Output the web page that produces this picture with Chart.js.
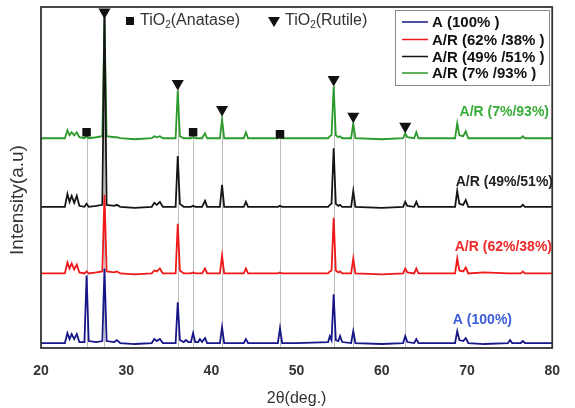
<!DOCTYPE html>
<html>
<head>
<meta charset="utf-8">
<script src="https://cdn.jsdelivr.net/npm/chart.js@4.4.0/dist/chart.umd.min.js"></script>
<style>
  html, body { margin: 0; padding: 0; background: #fff; }
  canvas { display: block; }
</style>
</head>
<body>
<canvas id="xrdChart" width="575" height="408"></canvas>
<script>
// --- DATA ---
const twoTheta = [
  20, 21.5, 22.8, 23.1, 23.35, 23.6, 23.9, 24.2, 24.5, 25.1,
  25.35, 25.6, 26.5, 27.2, 27.45, 27.7, 28.6, 28.9, 29.3, 31.0,
  33.0, 33.3, 33.6, 33.95, 34.3, 35.8, 36.05, 36.3, 36.75, 37.0,
  37.3, 37.6, 37.85, 38.1, 38.45, 38.65, 38.9, 39.25, 39.5, 41.0,
  41.25, 41.5, 43.8, 44.05, 44.3, 47.8, 48.05, 48.3, 50.0, 53.7,
  53.9, 54.1, 54.35, 54.6, 54.9, 55.1, 55.35, 56.4, 56.65, 56.9,
  60.0, 62.5, 62.75, 63.0, 63.8, 64.05, 64.3, 68.6, 68.85, 69.1,
  69.55, 69.85, 70.15, 72.0, 74.8, 75.05, 75.3, 76.3, 76.55, 76.8,
  80
];

// intensities above each pattern's own baseline (a.u.)
const anatase100 = [
  1, 1, 1, 11, 5, 10, 5, 10, 2, 2,
  69, 3, 2, 3, 76, 3, 2, 4, 1, 0,
  1, 5, 3, 5, 1, 1, 42, 4, 2, 4,
  2, 2, 11, 2, 2, 5, 2, 6, 1, 1,
  17, 1, 1, 5, 1, 1, 16, 1, 1, 2,
  8, 4, 50, 4, 3, 8, 2, 1, 13, 1,
  0, 1, 8, 2, 1, 5, 1, 1, 13, 4,
  3, 6, 1, 0, 1, 4, 1, 1, 3, 1,
  1
];
const ar62_38 = [
  1, 1, 1, 12, 6, 11, 5, 10, 2, 1,
  3, 1, 2, 3, 80, 3, 2, 3, 1, 0,
  1, 4, 3, 6, 1, 1, 51, 4, 1, 1,
  1, 1, 2, 1, 1, 1, 1, 6, 1, 1,
  19, 1, 1, 6, 1, 1, 2, 1, 1, 1,
  3, 4, 57, 4, 2, 3, 1, 1, 16, 1,
  0, 1, 6, 2, 1, 6, 1, 1, 16, 4,
  3, 7, 1, 2, 1, 1, 1, 1, 3, 1,
  1
];
const ar49_51 = [
  1, 1, 1, 14, 6, 12, 5, 12, 2, 1,
  4, 1, 2, 3, 200, 3, 2, 3, 1, 0,
  1, 5, 3, 6, 1, 1, 52, 4, 1, 1,
  1, 1, 2, 1, 1, 1, 1, 7, 1, 1,
  23, 1, 1, 6, 1, 1, 2, 1, 1, 1,
  3, 4, 60, 4, 2, 3, 1, 1, 17, 1,
  0, 1, 6, 2, 1, 6, 1, 1, 17, 4,
  3, 8, 1, 1, 1, 1, 1, 1, 3, 1,
  1
];
const ar7_93 = [
  1, 1, 1, 9, 4, 7, 4, 7, 2, 1,
  3, 1, 2, 3, 122, 3, 2, 2, 1, 0,
  1, 3, 2, 3, 1, 1, 49, 3, 1, 1,
  1, 1, 2, 1, 1, 1, 1, 6, 1, 1,
  20, 1, 1, 7, 1, 1, 2, 1, 1, 1,
  3, 4, 53, 4, 2, 3, 1, 1, 16, 1,
  0, 1, 6, 2, 1, 7, 1, 1, 16, 4,
  3, 8, 1, 1, 1, 1, 1, 1, 3, 1,
  1
];

const seriesNames = ['A (100%)', 'A/R (62%/38%)', 'A/R (49%/51%)', 'A/R (7%/93%)'];
const legendNames = ['A (100% )', 'A/R (62% /38% )', 'A/R (49% /51% )', 'A/R (7% /93% )'];
const seriesOffsets = [4, 74, 141, 210];
const seriesColors = ['#16168a', '#f01818', '#151515', '#2a9a2a'];
const labelColors = ['#3a5cd6', '#f02a2a', '#222222', '#38ad38'];

// phase markers
const anataseX = [25.35, 37.85, 48.05];
const anataseY = [217, 217, 215];
const rutileX = [27.45, 36.05, 41.25, 54.35, 56.65, 62.75];
const rutileY = [338, 266, 240, 270, 233, 223];

const xTicks = [20, 30, 40, 50, 60, 70, 80];

// --- DATASETS ---
const seriesValues = [anatase100, ar62_38, ar49_51, ar7_93];
const lineSets = seriesValues.map((vals, i) => ({
    label: seriesNames[i],
    data: twoTheta.map((t, k) => ({ x: t, y: vals[k] + seriesOffsets[i] })),
    borderColor: seriesColors[i],
    borderWidth: 1.8,
    pointRadius: 0,
    tension: 0,
    fill: false
}));

const markerSets = [
    {
        label: 'anatase',
        type: 'scatter',
        data: anataseX.map((t, k) => ({ x: t, y: anataseY[k] })),
        pointStyle: 'rect',
        pointRadius: 6,
        backgroundColor: '#111',
        borderColor: '#111',
        borderWidth: 0,
        order: -1
    },
    {
        label: 'rutile',
        type: 'scatter',
        data: rutileX.map((t, k) => ({ x: t, y: rutileY[k] })),
        pointStyle: 'triangle',
        rotation: 180,
        pointRadius: 7,
        backgroundColor: '#111',
        borderColor: '#111',
        borderWidth: 0,
        order: -1
    }
];

// small helper: text like TiO2(...) with subscript
function drawChem(ctx, x, y, head, sub, tail, size) {
    ctx.font = size + 'px Arial, "Liberation Sans", sans-serif';
    ctx.fillText(head, x, y);
    x += ctx.measureText(head).width;
    ctx.font = Math.round(size * 0.6) + 'px Arial, "Liberation Sans", sans-serif';
    ctx.fillText(sub, x, y + size * 0.28);
    x += ctx.measureText(sub).width;
    ctx.font = size + 'px Arial, "Liberation Sans", sans-serif';
    ctx.fillText(tail, x, y);
}

const overlayPlugin = {
    id: 'overlay',
    beforeDatasetsDraw(chart) {
        const { ctx, chartArea, scales: { x, y } } = chart;
        ctx.save();
        ctx.strokeStyle = '#bdbdbd';
        ctx.lineWidth = 1;
        const allX = anataseX.concat(rutileX);
        const allY = anataseY.concat(rutileY);
        allX.forEach((t, k) => {
            const px = Math.round(x.getPixelForValue(t)) + 0.5;
            ctx.beginPath();
            ctx.moveTo(px, y.getPixelForValue(allY[k]));
            ctx.lineTo(px, chartArea.bottom);
            ctx.stroke();
        });
        ctx.restore();
    },
    afterDraw(chart) {
        const { ctx, chartArea } = chart;
        ctx.save();

        // plot frame
        ctx.strokeStyle = '#333';
        ctx.lineWidth = 1.8;
        ctx.strokeRect(chartArea.left, chartArea.top, chartArea.right - chartArea.left, chartArea.bottom - chartArea.top);

        // phase key
        ctx.fillStyle = '#111';
        ctx.fillRect(126, 17, 8, 8);
        ctx.beginPath();
        ctx.moveTo(268, 17);
        ctx.lineTo(280, 17);
        ctx.lineTo(274, 27);
        ctx.closePath();
        ctx.fill();
        ctx.fillStyle = '#333';
        ctx.textBaseline = 'middle';
        ctx.textAlign = 'left';
        drawChem(ctx, 140, 21, 'TiO', '2', '(Anatase)', 16);
        drawChem(ctx, 285, 21, 'TiO', '2', '(Rutile)', 16);

        // legend box
        ctx.fillStyle = '#fff';
        ctx.fillRect(395, 10, 154, 75);
        ctx.strokeStyle = '#8a8a8a';
        ctx.lineWidth = 1;
        ctx.strokeRect(395.5, 10.5, 154, 75);
        const rowY = [22, 39.5, 56.5, 73];
        legendNames.forEach((name, i) => {
            ctx.strokeStyle = seriesColors[i];
            ctx.lineWidth = 1.5;
            ctx.beginPath();
            ctx.moveTo(402, rowY[i]);
            ctx.lineTo(428, rowY[i]);
            ctx.stroke();
            ctx.fillStyle = '#111';
            ctx.font = 'bold 15px Arial, "Liberation Sans", sans-serif';
            ctx.fillText(name, 432, rowY[i] + 1);
        });

        // pattern labels
        ctx.font = 'bold 14px Arial, "Liberation Sans", sans-serif';
        ctx.textAlign = 'right';
        const labelPos = [[512, 320], [552, 247], [553, 182], [549, 112]];
        seriesNames.forEach((name, i) => {
            ctx.fillStyle = labelColors[i];
            ctx.fillText(name, labelPos[i][0], labelPos[i][1]);
        });

        // y title
        ctx.translate(18, 200);
        ctx.rotate(-Math.PI / 2);
        ctx.textAlign = 'center';
        ctx.fillStyle = '#333';
        ctx.font = '19px Arial, "Liberation Sans", sans-serif';
        ctx.fillText('Intensity(a.u)', 0, 0);
        ctx.restore();
    }
};

new Chart(document.getElementById('xrdChart'), {
    type: 'line',
    data: { datasets: lineSets.concat(markerSets) },
    options: {
        responsive: false,
        animation: false,
        layout: { padding: { left: 41, right: 18, top: 5, bottom: 0 } },
        plugins: {
            legend: { display: false },
            tooltip: { enabled: false }
        },
        scales: {
            x: {
                type: 'linear',
                min: 20,
                max: 80,
                afterFit: (scale) => { scale.height = 60; },
                afterBuildTicks: (scale) => { scale.ticks = xTicks.map(v => ({ value: v })); },
                grid: { display: false, drawTicks: false },
                border: { display: false },
                ticks: {
                    padding: 15,
                    color: '#333',
                    font: { family: 'Arial, "Liberation Sans", sans-serif', size: 14, weight: 'bold' }
                },
                title: {
                    display: true,
                    text: '2θ(deg.)',
                    color: '#333',
                    padding: { top: 0, bottom: 0 },
                    font: { family: 'Arial, "Liberation Sans", sans-serif', size: 16 }
                }
            },
            y: {
                display: false,
                min: 0,
                max: 343
            }
        }
    },
    plugins: [overlayPlugin]
});
</script>
</body>
</html>
